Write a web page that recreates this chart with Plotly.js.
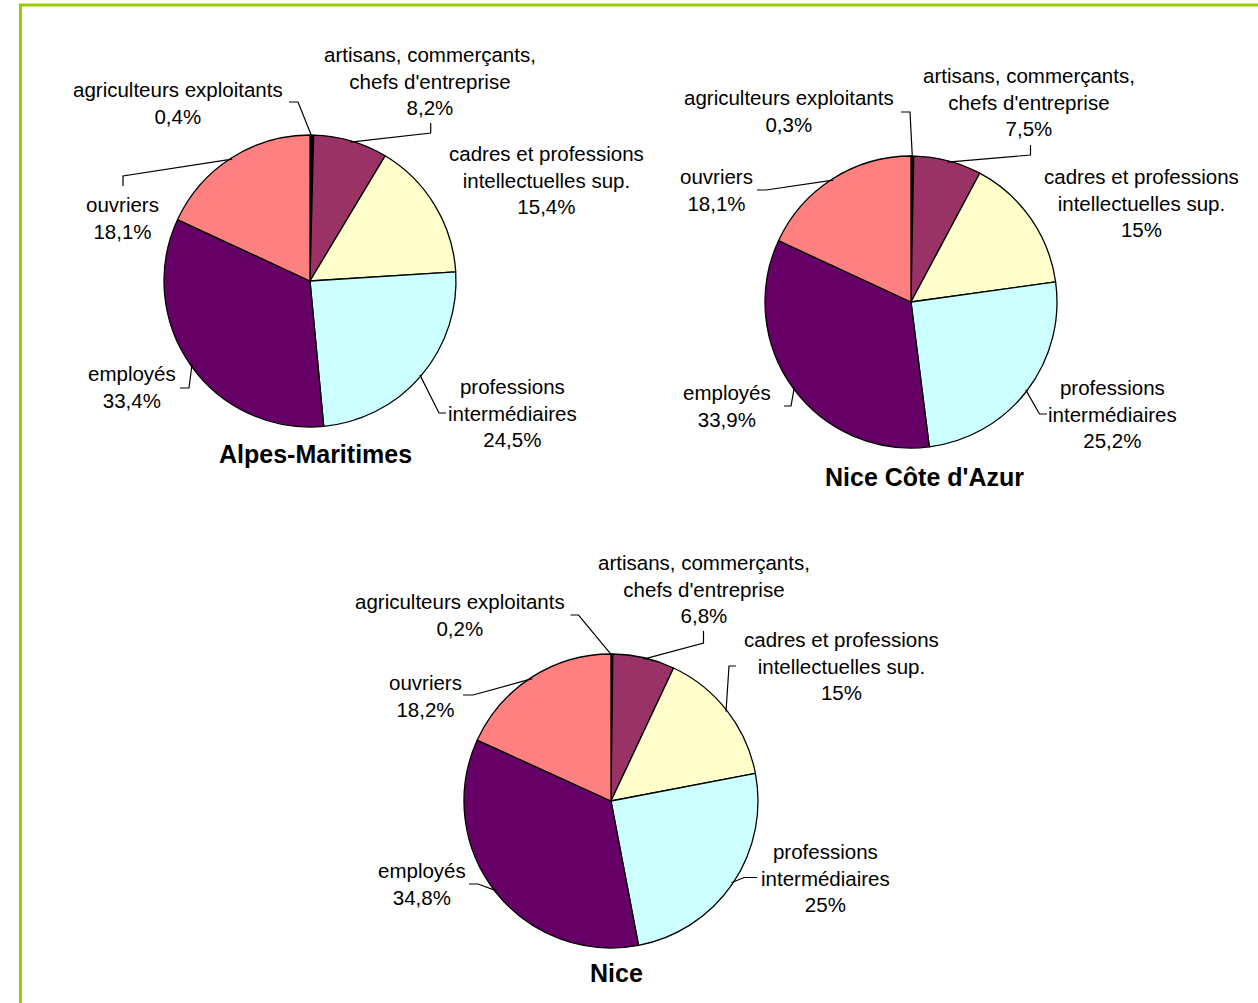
<!DOCTYPE html>
<html>
<head>
<meta charset="utf-8">
<script src="https://cdn.plot.ly/plotly-3.0.1.min.js"></script>
<style>
  html, body { margin: 0; padding: 0; background: #ffffff; }
  #chart { width: 1258px; height: 1003px; }
</style>
</head>
<body>
<div id="chart"></div>
<script>
// ---------------- DATA ----------------
const categories = [
  "agriculteurs exploitants",
  "artisans, commerçants,<br>chefs d'entreprise",
  "cadres et professions<br>intellectuelles sup.",
  "professions<br>intermédiaires",
  "employés",
  "ouvriers"
];
const pieTitles = ["Alpes-Maritimes", "Nice Côte d'Azur", "Nice"];
const valuesAlpesMaritimes = [0.4, 8.2, 15.4, 24.5, 33.4, 18.1];
const valuesNiceCoteAzur   = [0.3, 7.5, 15, 25.2, 33.9, 18.1];
const valuesNice           = [0.2, 6.8, 15, 25, 34.8, 18.2];
const seriesValues = [valuesAlpesMaritimes, valuesNiceCoteAzur, valuesNice];
const colors = ["#000000", "#993366", "#FFFFCC", "#CCFFFF", "#660066", "#FF8080"];

// ---------------- LAYOUT (pixel positions) ----------------
const W = 1258, H = 1003;
const pieGeom = [
  {cx: 310, cy: 281, r: 146},
  {cx: 911, cy: 302, r: 146},
  {cx: 611, cy: 801, r: 147}
];
const titlePos = [{x: 316, y: 454}, {x: 924, y: 477}, {x: 616, y: 973}];
// label block centre + leader tick (tick end, elbow); leader then runs to slice edge
const labelPos = [
  [
    {x: 178, y: 103, pts: [[289, 102], [298, 102]]},
    {x: 430, y: 81.5, pts: [[430.7, 123], [430.7, 133]]},
    {x: 546, y: 180, pts: null},
    {x: 512, y: 413, pts: [[446, 413], [439, 413]]},
    {x: 132, y: 386.5, pts: [[180, 388], [189, 388]]},
    {x: 122, y: 218, pts: [[123, 186], [123, 176]]}
  ],
  [
    {x: 789, y: 111, pts: [[901, 112], [910, 112]]},
    {x: 1029, y: 102, pts: [[1030.5, 145], [1030.5, 155]]},
    {x: 1141, y: 203, pts: null},
    {x: 1112, y: 414, pts: [[1047, 414], [1039.5, 414]]},
    {x: 727, y: 406, pts: [[784, 406], [791, 406]]},
    {x: 716, y: 190.5, pts: [[757, 190], [766, 190]]}
  ],
  [
    {x: 460, y: 615, pts: [[570.5, 615], [578.5, 615]]},
    {x: 704, y: 589, pts: [[703.5, 631], [703.5, 643]]},
    {x: 841, y: 666, pts: [[736, 666], [729, 666]]},
    {x: 825, y: 877.5, pts: [[757, 877.5], [744, 877.5]]},
    {x: 422, y: 884, pts: [[469, 884], [478, 884]]},
    {x: 425, y: 695.5, pts: [[463, 695], [473, 695]]}
  ]
];

const px = x => x / W;
const py = y => 1 - y / H;
const fmt = v => String(v).replace('.', ',') + '%';
const FONT = 'Liberation Sans, Arial, sans-serif';

const traces = [];
const annotations = [];
const shapes = [];

seriesValues.forEach((vals, i) => {
  const g = pieGeom[i];
  traces.push({
    type: 'pie',
    labels: categories,
    values: vals,
    sort: false,
    direction: 'clockwise',
    rotation: 0,
    textinfo: 'none',
    hoverinfo: 'skip',
    showlegend: false,
    marker: {colors: colors, line: {color: '#000000', width: 1.3}},
    domain: {
      x: [px(g.cx - g.r), px(g.cx + g.r)],
      y: [py(g.cy + g.r), py(g.cy - g.r)]
    }
  });

  const total = vals.reduce((a, b) => a + b, 0);
  let cum = 0;
  vals.forEach((v, k) => {
    const mid = (cum + v / 2) / total * 2 * Math.PI;
    cum += v;
    const ex = g.cx + g.r * 0.99 * Math.sin(mid);
    const ey = g.cy - g.r * 0.99 * Math.cos(mid);
    const lp = labelPos[i][k];
    annotations.push({
      xref: 'paper', yref: 'paper',
      x: px(lp.x), y: py(lp.y),
      xanchor: 'center', yanchor: 'middle',
      showarrow: false,
      align: 'center',
      text: categories[k] + '<br>' + fmt(v),
      font: {family: FONT, size: 20.5, color: '#000000'}
    });
    if (lp.pts) {
      const p = lp.pts;
      shapes.push({
        type: 'path', xref: 'paper', yref: 'paper', layer: 'above',
        path: `M ${px(p[0][0])} ${py(p[0][1])} L ${px(p[1][0])} ${py(p[1][1])} L ${px(ex)} ${py(ey)}`,
        line: {color: '#000000', width: 1.2}
      });
    }
  });

  annotations.push({
    xref: 'paper', yref: 'paper',
    x: px(titlePos[i].x), y: py(titlePos[i].y),
    xanchor: 'center', yanchor: 'middle',
    showarrow: false,
    text: '<b>' + pieTitles[i] + '</b>',
    font: {family: FONT, size: 25, color: '#000000'}
  });
});

// green frame (left and top edges visible)
shapes.push({
  type: 'rect', xref: 'paper', yref: 'paper', layer: 'above',
  x0: px(20.5), x1: px(1275), y0: py(1030), y1: py(5),
  line: {color: '#99CC00', width: 3}
});

const layout = {
  width: W, height: H,
  margin: {l: 0, r: 0, t: 0, b: 0},
  paper_bgcolor: '#ffffff',
  plot_bgcolor: '#ffffff',
  showlegend: false,
  annotations: annotations,
  shapes: shapes
};

Plotly.newPlot('chart', traces, layout, {staticPlot: true, displayModeBar: false});
</script>
</body>
</html>
